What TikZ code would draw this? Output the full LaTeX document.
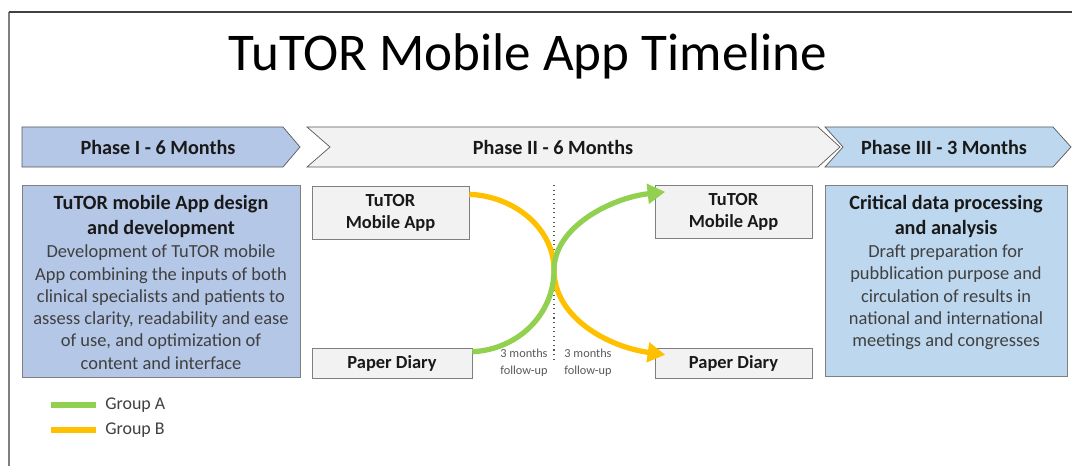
\documentclass[tikz,border=0pt]{standalone}
\usepackage{fontspec}
\setmainfont{Carlito}
\usetikzlibrary{arrows.meta,positioning,calc}
\definecolor{phaseblue}{RGB}{180,199,231}
\definecolor{paleblue}{RGB}{189,215,238}
\definecolor{boxgray}{RGB}{242,242,242}
\definecolor{edgegray}{RGB}{127,127,127}
\definecolor{darkgray}{RGB}{89,89,89}
\definecolor{textgray}{RGB}{64,64,64}
\definecolor{groupa}{RGB}{146,208,80}
\definecolor{groupb}{RGB}{255,192,0}

\tikzset{
  phaselabel/.style={font=\fontsize{11.5}{14}\selectfont\bfseries, text=black!90},
  toolbox/.style={draw=edgegray, fill=boxgray, inner sep=0pt, align=center,
    font=\fontsize{10.5}{12.6}\selectfont\bfseries, text=black!90},
  heading/.style={inner sep=0pt, align=center, font=\fontsize{11.5}{14}\selectfont\bfseries, text=black!90},
  bodytext/.style={inner sep=0pt, align=center, font=\fontsize{10.5}{12.7}\selectfont, text=textgray},
  followup/.style={inner sep=0pt, align=center, font=\fontsize{7}{9.6}\selectfont, text=darkgray},
  groupline/.style={line width=3pt, -{Triangle[length=10pt,width=11pt]}},
}

\begin{document}
\begin{tikzpicture}[x=0.02cm, y=-0.02cm]
\useasboundingbox (0,0) rectangle (1072,466);
\draw[edgegray, line width=1.1pt] (9,466) -- (9,12);
\draw[textgray, line width=0.9pt] (9,12) -- (1072,12);
\node[anchor=base, font=\fontsize{30.2}{36}\selectfont] (title) at (528,71) {TuTOR Mobile App Timeline};

% phases
\fill[draw=darkgray, fill=phaseblue] (22,127) -- (283,127) -- (300,147) -- (283,167) -- (22,167) -- cycle;
\node[phaselabel] (phase1) at (158,147) {Phase I - 6 Months};
\fill[draw=darkgray, fill=boxgray] (307,127) -- (818,127) -- (840,147) -- (818,167) -- (307,167) -- (330,147) -- cycle;
\node[phaselabel] (phase2) at (553,147) {Phase II - 6 Months};
\fill[draw=darkgray, fill=paleblue] (825,127) -- (1053,127) -- (1071,147) -- (1053,167) -- (825,167) -- (843,147) -- cycle;
\node[phaselabel] (phase3) at (944,147) {Phase III - 3 Months};

% phase I and III boxes
\node[draw=edgegray, fill=phaseblue, minimum width=5.56cm, minimum height=3.84cm] (design) at (161,281) {};
\node[heading, anchor=north] (designhead) at ([yshift=-6pt]design.north) {TuTOR mobile App design\\and development};
\node[bodytext, below=3.8pt of designhead] (designbody) {Development of TuTOR mobile\\App combining the inputs of both\\clinical specialists and patients to\\assess clarity, readability and ease\\of use, and optimization of\\content and interface};
\node[draw=edgegray, fill=paleblue, minimum width=4.84cm, minimum height=3.82cm] (analysis) at (946,280.5) {};
\node[heading, anchor=north] (analysishead) at ([yshift=-6pt]analysis.north) {Critical data processing\\and analysis};
\node[bodytext, below=3.8pt of analysishead] (analysisbody) {Draft preparation for\\pubblication purpose and\\circulation of results in\\national and international\\meetings and congresses};

% phase II
\node[toolbox, minimum width=3.14cm, minimum height=1.06cm] (appL) at (390.5,212.5) {TuTOR\\Mobile App};
\node[toolbox, minimum width=3.2cm, minimum height=0.6cm] (diaryL) at (392,363) {Paper Diary};
\node[toolbox, minimum width=3.14cm, minimum height=1.06cm] (appR) at (733.5,211.5) {TuTOR\\Mobile App};
\node[toolbox, minimum width=3.14cm, minimum height=0.6cm] (diaryR) at (733.5,363) {Paper Diary};
\coordinate (divtop) at (554,185);
\coordinate (divbot) at (554,363);
\coordinate (cross) at (554,270);
\draw[darkgray, dotted, line width=0.6pt] (divtop) -- (divbot);
\node[followup] (fuL) at (524,363) {3 months\\follow-up};
\node[followup] (fuR) at (588,363) {3 months\\follow-up};
\draw[groupb, groupline] (appL.13) .. controls +(46,2) and +(0,-41) .. (cross) .. controls +(0,47) and +(-58,-8) .. ([xshift=6pt]diaryR.174);
\draw[groupa, groupline] (diaryL.8) .. controls +(45,-2) and +(0,45) .. (cross) .. controls +(0,-43) and +(-54,6) .. ([xshift=6pt]appR.166);

% legend
\node[anchor=west, inner sep=0pt, font=\fontsize{10.2}{12}\selectfont, text=textgray] (keya) at (105,405) {Group A};
\node[anchor=west, inner sep=0pt, font=\fontsize{10.2}{12}\selectfont, text=textgray] (keyb) at (105,430) {Group B};
\draw[groupa, line width=3pt] ([xshift=-5pt]keya.west) -- +(-45,0);
\draw[groupb, line width=3pt] ([xshift=-5pt]keyb.west) -- +(-45,0);
\end{tikzpicture}
\end{document}
